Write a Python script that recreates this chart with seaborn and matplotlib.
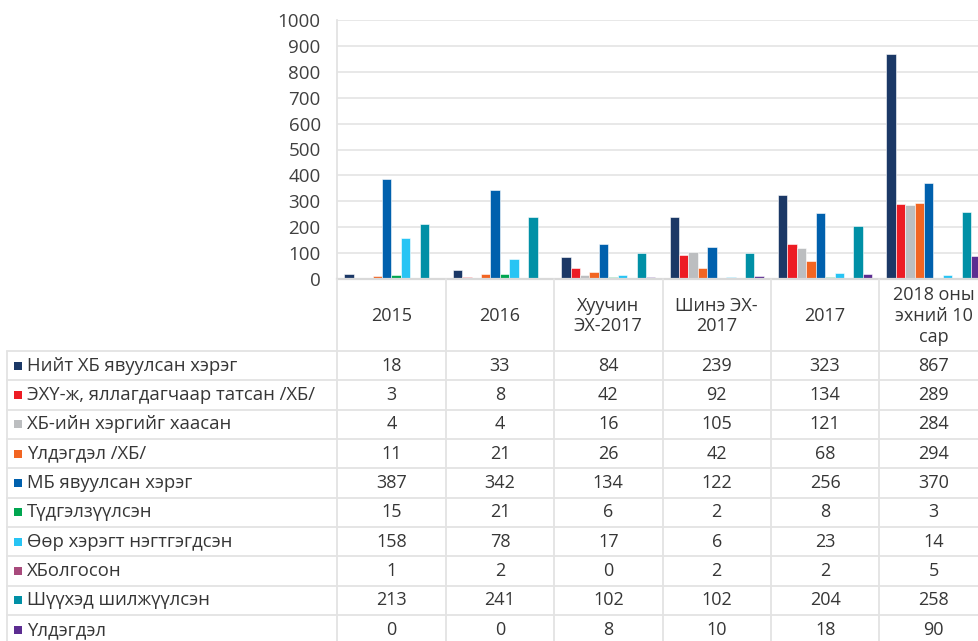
import matplotlib
matplotlib.use("Agg")
import matplotlib.pyplot as plt
import matplotlib.transforms as mtransforms
from matplotlib.lines import Line2D
from matplotlib.patches import Rectangle
import seaborn as sns
import pandas as pd

categories = ["2015", "2016", "Хуучин ЭХ-2017", "Шинэ ЭХ-2017", "2017", "2018 оны эхний 10 сар"]
header_labels = ["2015", "2016", "Хуучин\nЭХ-2017", "Шинэ ЭХ-\n2017", "2017", "2018 оны\nэхний 10\nсар"]

series_names = [
    "Нийт ХБ явуулсан хэрэг",
    "ЭХҮ-ж, яллагдагчаар татсан /ХБ/",
    "ХБ-ийн хэргийг хаасан",
    "Үлдэгдэл /ХБ/",
    "МБ явуулсан хэрэг",
    "Түдгэлзүүлсэн",
    "Өөр хэрэгт нэгтгэгдсэн",
    "ХБолгосон",
    "Шүүхэд шилжүүлсэн",
    "Үлдэгдэл",
]

niit_hb = [18, 33, 84, 239, 323, 867]
ekhu = [3, 8, 42, 92, 134, 289]
hb_haasan = [4, 4, 16, 105, 121, 284]
uldegdel_hb = [11, 21, 26, 42, 68, 294]
mb = [387, 342, 134, 122, 256, 370]
tudgelzuulsen = [15, 21, 6, 2, 8, 3]
oor_kheregt = [158, 78, 17, 6, 23, 14]
hbolgoson = [1, 2, 0, 2, 2, 5]
shuukhed = [213, 241, 102, 102, 204, 258]
uldegdel = [0, 0, 8, 10, 18, 90]

series_values = [niit_hb, ekhu, hb_haasan, uldegdel_hb, mb, tudgelzuulsen,
                 oor_kheregt, hbolgoson, shuukhed, uldegdel]

colors = ["#1b3866", "#ed1c24", "#bcbec0", "#f26522", "#0060ad",
          "#00a650", "#27c4f4", "#a84a7c", "#0090a6", "#5c2d91"]

rows = []
for name, vals in zip(series_names, series_values):
    for c, v in zip(categories, vals):
        rows.append({"cat": c, "series": name, "val": v})
df = pd.DataFrame(rows)

sns.set_style("white")
plt.rcParams["font.family"] = ["Open Sans", "Noto Sans", "DejaVu Sans"]

W, H = 979, 641
fig = plt.figure(figsize=(W / 100, H / 100), dpi=100)

def fx(px):
    return px / W

def fy(py):
    return 1 - py / H

ax_left, col_w = 337.3, 108.4
ax_right = ax_left + 6 * col_w
ax = fig.add_axes([fx(ax_left), fy(279), fx(ax_right - ax_left), (279 - 20) / H])

sns.barplot(data=df, x="cat", y="val", hue="series", order=categories,
            hue_order=series_names, palette=colors, width=0.87, gap=0,
            saturation=1, errorbar=None, legend=False, ax=ax,
            edgecolor="white", linewidth=0.4)

ax.set_xlim(-0.5, 5.5)
ax.set_ylim(0, 1000)
ax.set_yticks(range(0, 1001, 100))
ax.yaxis.grid(True, color="#e6e6e6", linewidth=1.3)
ax.set_axisbelow(True)
ax.set_xticks([])
ax.set_xlabel("")
ax.set_ylabel("")
ax.tick_params(axis="y", length=0, pad=12, labelsize=13.5, labelcolor="#404040")
for s in ["top", "right"]:
    ax.spines[s].set_visible(False)
ax.spines["left"].set_color("#e3e3e3")
ax.spines["left"].set_linewidth(1.3)
ax.spines["bottom"].set_color("#d9d9d9")
ax.spines["bottom"].set_linewidth(1.6)

# table
trans = mtransforms.blended_transform_factory(ax.transData, fig.transFigure)
line_c = "#e3e3e3"
header_top, header_bot = 279, 351
row_h = 29.35
bottom_px = 660

for i in range(6):
    xb = i + 0.5
    fig.add_artist(Line2D([xb, xb], [fy(header_top), fy(bottom_px)], transform=trans,
                          color=line_c, linewidth=1.3))
fig.add_artist(Line2D([fx(ax_left), fx(ax_left)], [fy(header_top), fy(bottom_px)],
                      transform=fig.transFigure, color=line_c, linewidth=1.3))
fig.add_artist(Line2D([fx(7), fx(7)], [fy(header_bot), fy(bottom_px)],
                      transform=fig.transFigure, color=line_c, linewidth=1.3))

for r in range(len(series_names) + 1):
    y = header_bot + r * row_h
    fig.add_artist(Line2D([fx(7), 1.0], [fy(y), fy(y)], transform=fig.transFigure,
                          color=line_c, linewidth=1.3))

text_c = "#363636"
for i, lab in enumerate(header_labels):
    fig.text(i, fy((header_top + header_bot) / 2 + 1), lab, transform=trans,
             ha="center", va="center", fontsize=13, color=text_c, linespacing=1.2)

for r, (name, vals, col) in enumerate(zip(series_names, series_values, colors)):
    yc = header_bot + r * row_h + row_h / 2
    fig.add_artist(Rectangle((fx(14), fy(yc + 4)), fx(8), 8 / H,
                             transform=fig.transFigure, facecolor=col, edgecolor="none"))
    fig.text(fx(27), fy(yc), name, ha="left", va="center", fontsize=13.3, color=text_c)
    for i, v in enumerate(vals):
        fig.text(i, fy(yc), str(v), transform=trans, ha="center", va="center",
                 fontsize=13, color=text_c)

fig.savefig("out.png", dpi=100)
